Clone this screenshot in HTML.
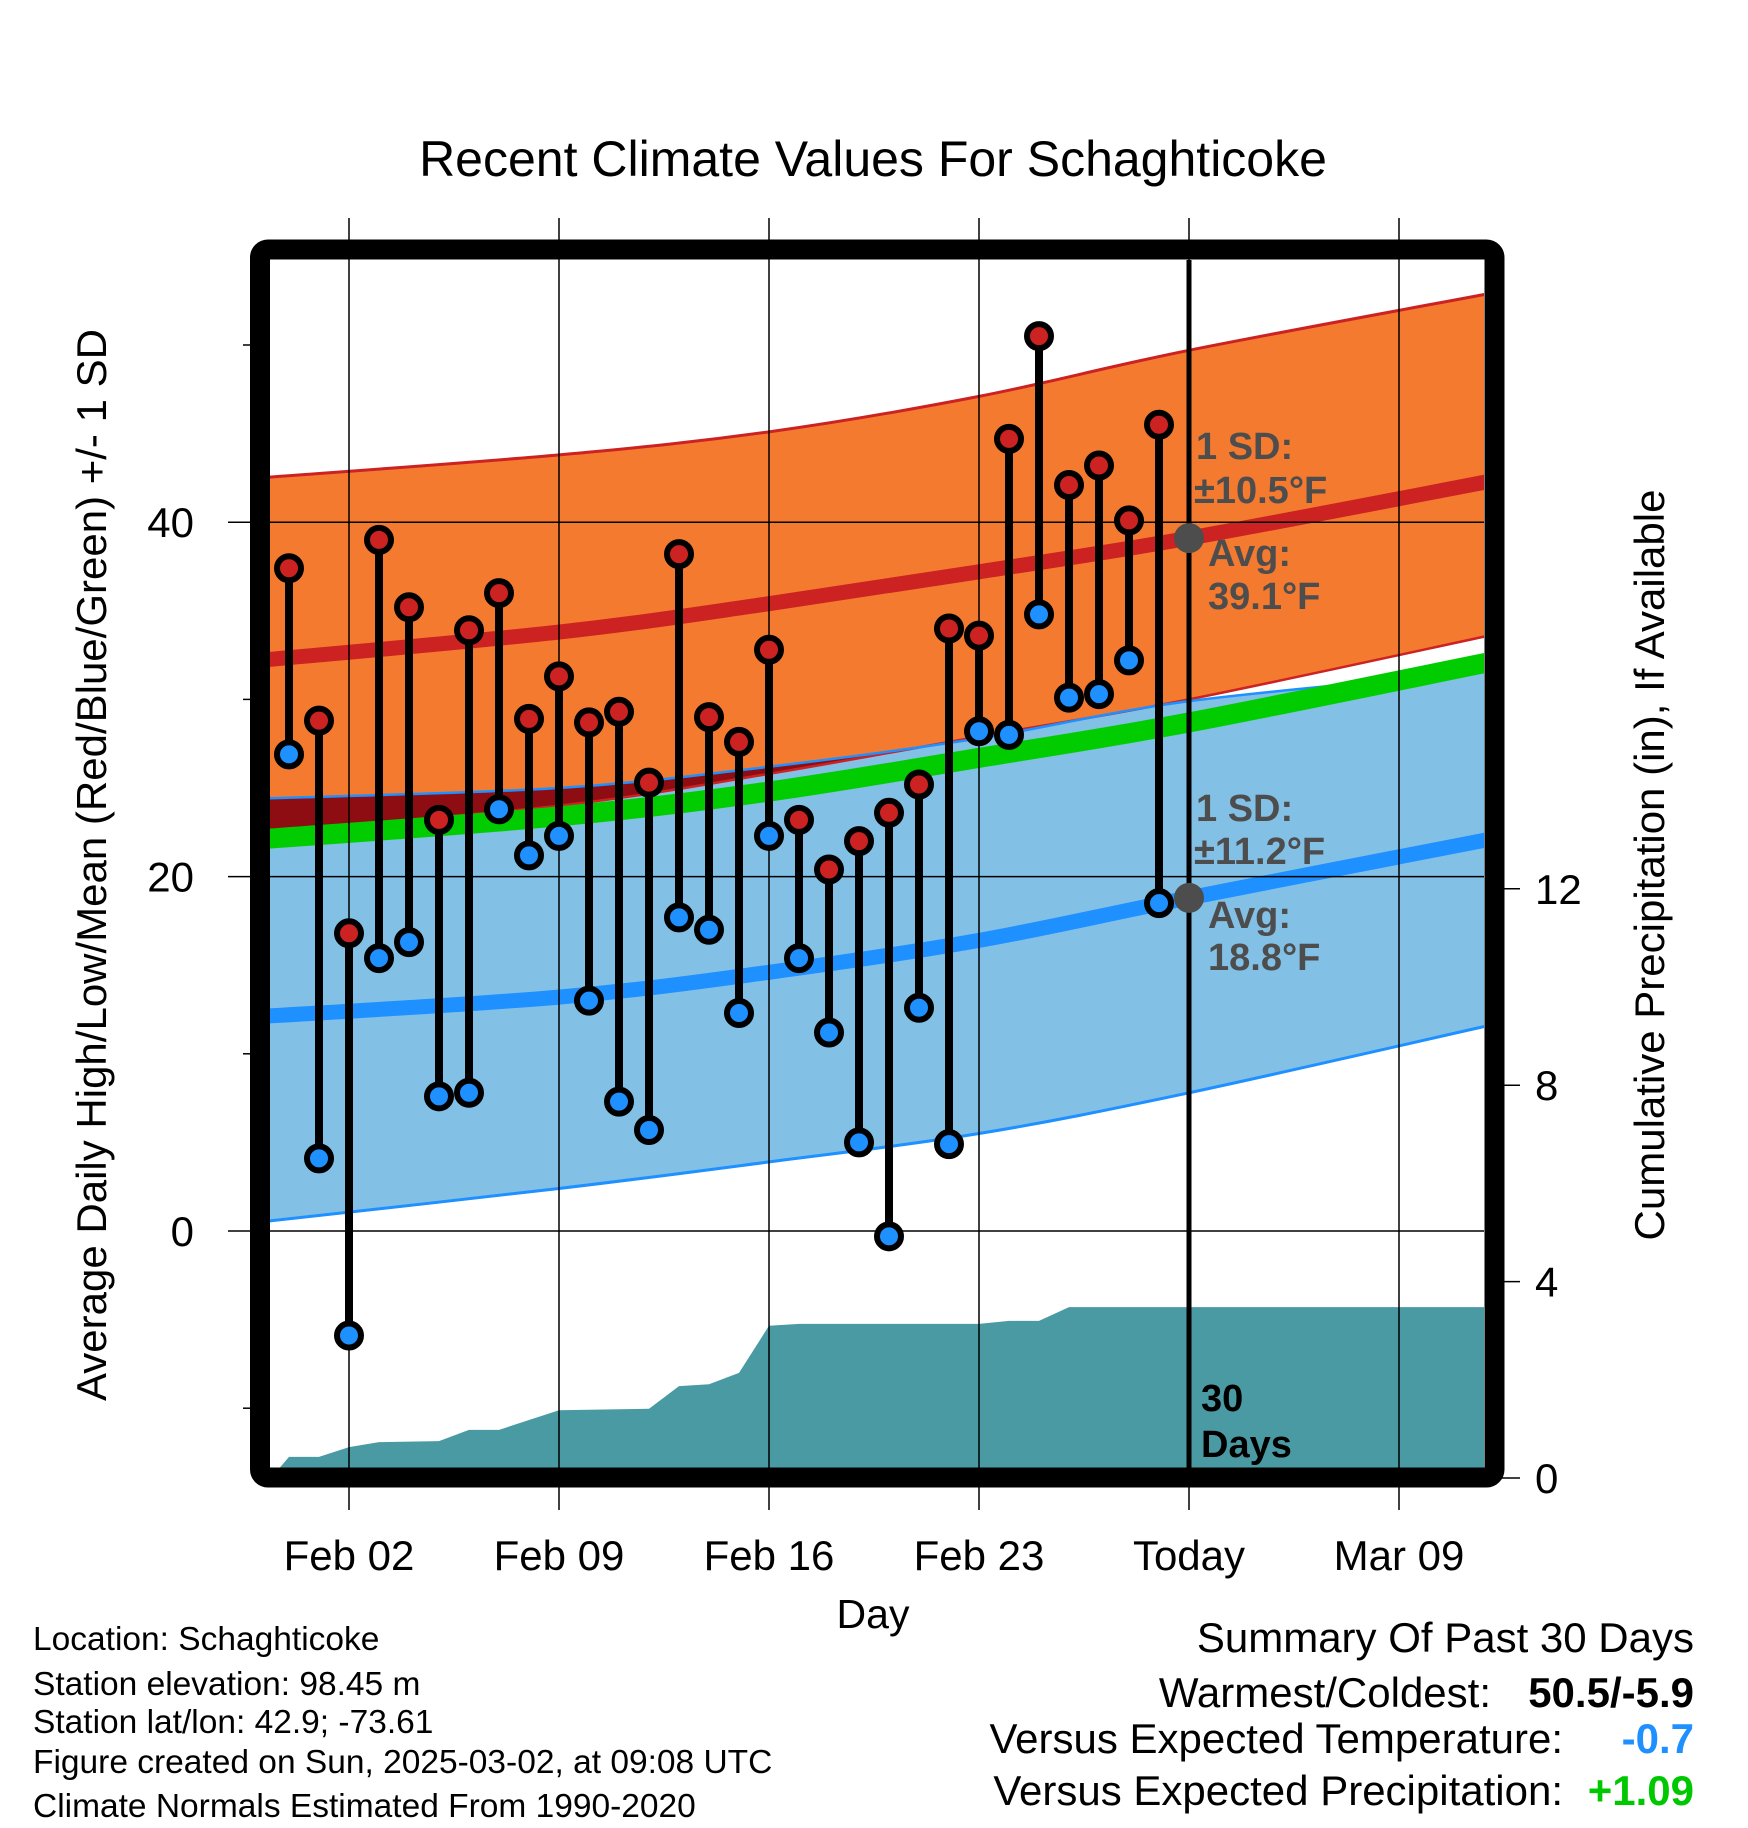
<!DOCTYPE html>
<html><head><meta charset="utf-8"><style>
html,body{margin:0;padding:0;background:#fff;}
svg{display:block;font-family:"Liberation Sans",Arial,sans-serif;}
</style></head><body>
<svg id="chart" width="1748" height="1828" viewBox="0 0 1748 1828" xmlns="http://www.w3.org/2000/svg">
<defs>
<clipPath id="plotClip"><rect x="270" y="260" width="1214" height="1208"/></clipPath>
</defs>
<text x="873" y="176" font-size="50" text-anchor="middle">Recent Climate Values For Schaghticoke</text>
<g id="bands" clip-path="url(#plotClip)"></g>
<g id="grid"></g>
<g id="marks" clip-path="url(#plotClip)"></g>
<g id="axes"></g>
<rect x="260" y="249.5" width="1234.5" height="1228" rx="8" fill="none" stroke="#000" stroke-width="20"/>
<text transform="translate(106,865) rotate(-90)" font-size="42" text-anchor="middle">Average Daily High/Low/Mean (Red/Blue/Green) +/- 1 SD</text>
<text transform="translate(1664,865) rotate(-90)" font-size="42" text-anchor="middle">Cumulative Precipitation (in), If Available</text>
<text x="873" y="1628" font-size="41" text-anchor="middle">Day</text>
<g font-size="33.5">
<text x="33" y="1650">Location: Schaghticoke</text>
<text x="33" y="1695">Station elevation: 98.45 m</text>
<text x="33" y="1733">Station lat/lon: 42.9; -73.61</text>
<text x="33" y="1773">Figure created on Sun, 2025-03-02, at 09:08 UTC</text>
<text x="33" y="1817">Climate Normals Estimated From 1990-2020</text>
</g>
<g font-size="42" text-anchor="end">
<text x="1694" y="1652">Summary Of Past 30 Days</text>
<text x="1491" y="1707">Warmest/Coldest:</text>
<text x="1694" y="1707" font-weight="bold">50.5/-5.9</text>
<text x="1563" y="1753">Versus Expected Temperature:</text>
<text x="1694" y="1753" font-weight="bold" fill="#1e90ff">-0.7</text>
<text x="1563" y="1805">Versus Expected Precipitation:</text>
<text x="1694" y="1805" font-weight="bold" fill="#00c800">+1.09</text>
</g>
</svg>
<script>
// ---- data ----
const dayOffsets = [-2,-1,0,1,2,3,4,5,6,7,8,9,10,11,12,13,14,15,16,17,18,19,20,21,22,23,24,25,26,27];
const highs = [37.4,28.8,16.8,39.0,35.2,23.2,33.9,36.0,28.9,31.3,28.7,29.3,25.3,38.2,29.0,27.6,32.8,23.2,20.4,22.0,23.6,25.2,34.0,33.6,44.7,50.5,42.1,43.2,40.1,45.5];
const lows = [26.9,4.1,-5.9,15.4,16.3,7.6,7.8,23.8,21.2,22.3,13.0,7.3,5.7,17.7,17.0,12.3,22.3,15.4,11.2,5.0,-0.3,12.6,4.9,28.2,28.0,34.8,30.1,30.3,32.2,18.5];
const precip = [0.43,0.43,0.63,0.73,0.74,0.75,0.98,0.98,1.18,1.38,1.39,1.40,1.41,1.87,1.91,2.14,3.10,3.14,3.14,3.14,3.14,3.14,3.14,3.14,3.20,3.20,3.48,3.48,3.48,3.48];
const normDays = [-3,7,14,21,28,38];
const avgHigh = [32.2,33.8,35.4,37.2,39.1,42.3];
const highUpper = [42.5,43.8,45.1,47.1,49.7,52.9];
const highLower = [22.5,24.0,25.8,27.9,30.0,33.6];
const avgLow = [12.1,13.2,14.6,16.4,18.8,22.1];
const lowUpper = [24.4,25.0,26.2,27.8,29.9,31.6];
const lowLower = [0.5,2.4,3.9,5.5,7.8,11.6];
const avgMean = [22.1,23.4,24.8,26.7,28.7,32.1];
const xTickDays = [0,7,14,21,28,35];
const xTickLabels = ["Feb 02","Feb 09","Feb 16","Feb 23","Today","Mar 09"];
const yTicks = [0,20,40];
const yMinorTicks = [-10,10,30,50];
const y2Ticks = [0,4,8,12];
const todayDay = 28;
const todayHighLabel = ["1 SD:","\u00B110.5\u00B0F","Avg:","39.1\u00B0F"];
const todayLowLabel = ["1 SD:","\u00B111.2\u00B0F","Avg:","18.8\u00B0F"];
const todayAvgHigh = 39.1, todayAvgLow = 18.8;

// ---- scales ----
const X = d => 349 + 30*d;
const Y = v => 1231 - 17.72*v;
const PY = v => 1478 - 49.1*v;
const NS = "http://www.w3.org/2000/svg";
function mk(tag, attrs, parent){const e=document.createElementNS(NS,tag);for(const k in attrs)e.setAttribute(k,attrs[k]);parent.appendChild(e);return e;}
function smooth(pts){let d="M"+pts[0][0]+","+pts[0][1];for(let i=0;i<pts.length-1;i++){const p0=pts[Math.max(0,i-1)],p1=pts[i],p2=pts[i+1],p3=pts[Math.min(pts.length-1,i+2)];const c1=[p1[0]+(p2[0]-p0[0])/6,p1[1]+(p2[1]-p0[1])/6];const c2=[p2[0]-(p3[0]-p1[0])/6,p2[1]-(p3[1]-p1[1])/6];d+=" C"+c1[0]+","+c1[1]+" "+c2[0]+","+c2[1]+" "+p2[0]+","+p2[1];}return d;}
const P = arr => normDays.map((d,i)=>[X(d),Y(arr[i])]);
function band(up,lo){const a=smooth(P(up));const b=smooth(P(lo).reverse()).replace(/^M/,"L");return a+" "+b+" Z";}

const bands=document.getElementById('bands');
const defs=document.querySelector('defs');
const cp=mk('clipPath',{id:'blueClip'},defs);
mk('path',{d:band(lowUpper,lowLower)},cp);
let e;
e=mk('path',{d:band(highUpper,highLower),fill:'#f47a30'},bands);


e=mk('path',{d:band(lowUpper,lowLower),fill:'#82c0e6'},bands);


e=mk('path',{d:band(highUpper,highLower),fill:'#8e0d12','clip-path':'url(#blueClip)'},bands);


const lines=[[highUpper,'#cc2222',3,'high-upper-line'],[highLower,'#cc2222',2.5,'high-lower-line'],[lowUpper,'#1e90ff',2.5,'low-upper-line'],[lowLower,'#1e90ff',3,'low-lower-line'],[avgMean,'#00cc00',20,'mean-line'],[avgHigh,'#cc2222',15,'avg-high-line'],[avgLow,'#1e90ff',15,'avg-low-line']];
lines.forEach(l=>{
  e=mk('path',{d:smooth(P(l[0])),fill:'none',stroke:l[1],'stroke-width':l[2]},bands);
  
  
});
// precip area
let pd="M"+X(-3)+","+PY(0)+" L"+X(-2.6)+","+PY(0);
dayOffsets.forEach((d,i)=>{pd+=" L"+X(d)+","+PY(precip[i]);});
pd+=" L"+X(39)+","+PY(precip[precip.length-1])+" L"+X(39)+","+PY(0)+" Z";
e=mk('path',{d:pd,fill:'#4a9aa4'},bands);



// grid
const grid=document.getElementById('grid');
xTickDays.forEach((d,i)=>{
  if(d===todayDay) return;
  e=mk('line',{x1:X(d),x2:X(d),y1:218,y2:1510,stroke:'#000','stroke-width':1.5},grid);
  
  
});
mk('line',{x1:X(todayDay),x2:X(todayDay),y1:218,y2:260,stroke:'#000','stroke-width':1.5},grid);
mk('line',{x1:X(todayDay),x2:X(todayDay),y1:1478,y2:1510,stroke:'#000','stroke-width':1.5},grid);
yTicks.forEach(v=>{
  e=mk('line',{x1:228,x2:1484,y1:Y(v),y2:Y(v),stroke:'#000','stroke-width':1.5},grid);
  
  
});

// marks
const marks=document.getElementById('marks');
dayOffsets.forEach((d,i)=>{
  e=mk('line',{x1:X(d),x2:X(d),y1:Y(highs[i]),y2:Y(lows[i]),stroke:'#000','stroke-width':8},marks);
  
  
});
dayOffsets.forEach((d,i)=>{
  e=mk('circle',{cx:X(d),cy:Y(highs[i]),r:12,fill:'#cc2222',stroke:'#000','stroke-width':6},marks);
  
  
  e=mk('circle',{cx:X(d),cy:Y(lows[i]),r:12,fill:'#1e90ff',stroke:'#000','stroke-width':6},marks);
  
  
});
e=mk('line',{x1:X(todayDay),x2:X(todayDay),y1:260,y2:1470,stroke:'#000','stroke-width':5},marks);


e=mk('circle',{cx:X(todayDay),cy:Y(todayAvgHigh),r:15,fill:'#4d4d4d'},marks);


e=mk('circle',{cx:X(todayDay),cy:Y(todayAvgLow),r:15,fill:'#4d4d4d'},marks);


function lab(txt,x,y,name,fill){const t=mk('text',{x:x,y:y,'font-size':38,'font-weight':'bold',fill:fill},marks);t.textContent=txt;}
const lx=X(todayDay);
lab(todayHighLabel[0],lx+7,459,'high-sd-label','#4d4d4d');
lab(todayHighLabel[1],lx+5,503,'high-sd-value','#4d4d4d');
lab(todayHighLabel[2],lx+19,566,'high-avg-label','#4d4d4d');
lab(todayHighLabel[3],lx+19,609,'high-avg-value','#4d4d4d');
lab(todayLowLabel[0],lx+7,821,'low-sd-label','#4d4d4d');
lab(todayLowLabel[1],lx+5,864,'low-sd-value','#4d4d4d');
lab(todayLowLabel[2],lx+19,928,'low-avg-label','#4d4d4d');
lab(todayLowLabel[3],lx+19,970,'low-avg-value','#4d4d4d');
lab('30',lx+12,1411,'days-count-label','#000');
lab('Days',lx+12,1457,'days-unit-label','#000');

// axes labels
const axes=document.getElementById('axes');
xTickDays.forEach((d,i)=>{
  e=mk('text',{x:X(d),y:1570,'font-size':42,'text-anchor':'middle'},axes);
  e.textContent=xTickLabels[i];
  
  
});
yTicks.forEach(v=>{
  e=mk('text',{x:194,y:Y(v)+15,'font-size':42,'text-anchor':'end'},axes);
  e.textContent=String(v);
  
  
});
yMinorTicks.forEach(v=>{
  e=mk('line',{x1:243,x2:252,y1:Y(v),y2:Y(v),stroke:'#000','stroke-width':1.5},axes);
  
  
});
y2Ticks.forEach(v=>{
  e=mk('line',{x1:1500,x2:1520,y1:PY(v),y2:PY(v),stroke:'#000','stroke-width':1.5},axes);
  
  
  e=mk('text',{x:1535,y:PY(v)+15,'font-size':42},axes);
  e.textContent=String(v);
  
  
});
</script>
</body></html>
